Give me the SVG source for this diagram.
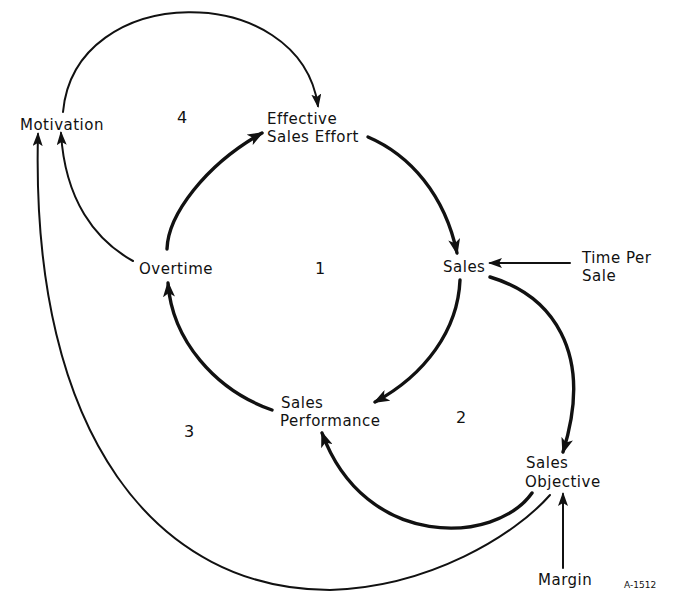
<svg xmlns="http://www.w3.org/2000/svg" width="674" height="591" viewBox="0 0 674 591">
<style>
text{font-family:"DejaVu Sans","Liberation Sans",sans-serif;font-size:15px;fill:#111;letter-spacing:0.5px}
.num{font-size:16px}
.tag{font-size:9px;letter-spacing:0}
.thick{fill:none;stroke:#111;stroke-width:3.4;stroke-linecap:round}
.thin{fill:none;stroke:#111;stroke-width:2;stroke-linecap:round}
</style>
<defs>
<marker id="ah" viewBox="0 0 16 12" refX="14" refY="6" markerWidth="16" markerHeight="12" markerUnits="userSpaceOnUse" orient="auto">
<path d="M0,0 L16,6 L0,12 L4,6 Z" fill="#111"/>
</marker>
<marker id="as" viewBox="0 0 14 10" refX="12" refY="5" markerWidth="14" markerHeight="10" markerUnits="userSpaceOnUse" orient="auto">
<path d="M0,0 L14,5 L0,10 L3,5 Z" fill="#111"/>
</marker>
</defs>
<g id="connectors">
<path class="thin" d="M63,112 C75,-20 300,-20 318,106" marker-end="url(#as)"/>
<path class="thin" d="M133,261 C95,240 65,200 61,133" marker-end="url(#as)"/>
<path class="thin" d="M550,495 C515,535 430,587 330,590 C160,590 30,440 38,134" marker-end="url(#as)"/>
<path class="thick" d="M167,249 C168,215 205,165 262,133" marker-end="url(#ah)"/>
<path class="thick" d="M368,137 C410,155 445,195 457,253" marker-end="url(#ah)"/>
<path class="thick" d="M460,280 C458,330 425,375 375,402" marker-end="url(#ah)"/>
<path class="thick" d="M272,410 C215,390 172,340 168,283" marker-end="url(#ah)"/>
<path class="thick" d="M490,277 C550,295 595,350 563,452" marker-end="url(#ah)"/>
<path class="thick" d="M532,493 C495,545 365,550 322,433" marker-end="url(#ah)"/>
<path class="thin" d="M570,263 L490,263" marker-end="url(#as)"/>
<path class="thin" d="M563,568 L563,494" marker-end="url(#as)"/>
</g>
<g id="motivation"><text x="20" y="130">Motivation</text></g>
<g id="effective-sales-effort"><text x="267" y="124">Effective</text><text x="267" y="142">Sales Effort</text></g>
<g id="overtime"><text x="139" y="274">Overtime</text></g>
<g id="sales"><text x="443" y="272">Sales</text></g>
<g id="time-per-sale"><text x="582" y="263">Time Per</text><text x="582" y="281">Sale</text></g>
<g id="sales-performance"><text x="281" y="408">Sales</text><text x="280" y="426">Performance</text></g>
<g id="sales-objective"><text x="526" y="468">Sales</text><text x="525" y="487">Objective</text></g>
<g id="margin"><text x="538" y="585">Margin</text></g>
<g id="loop-labels">
<text class="num" x="177" y="123">4</text>
<text class="num" x="315" y="274">1</text>
<text class="num" x="184" y="437">3</text>
<text class="num" x="456" y="423">2</text>
</g>
<text class="tag" x="624" y="588">A-1512</text>
</svg>
